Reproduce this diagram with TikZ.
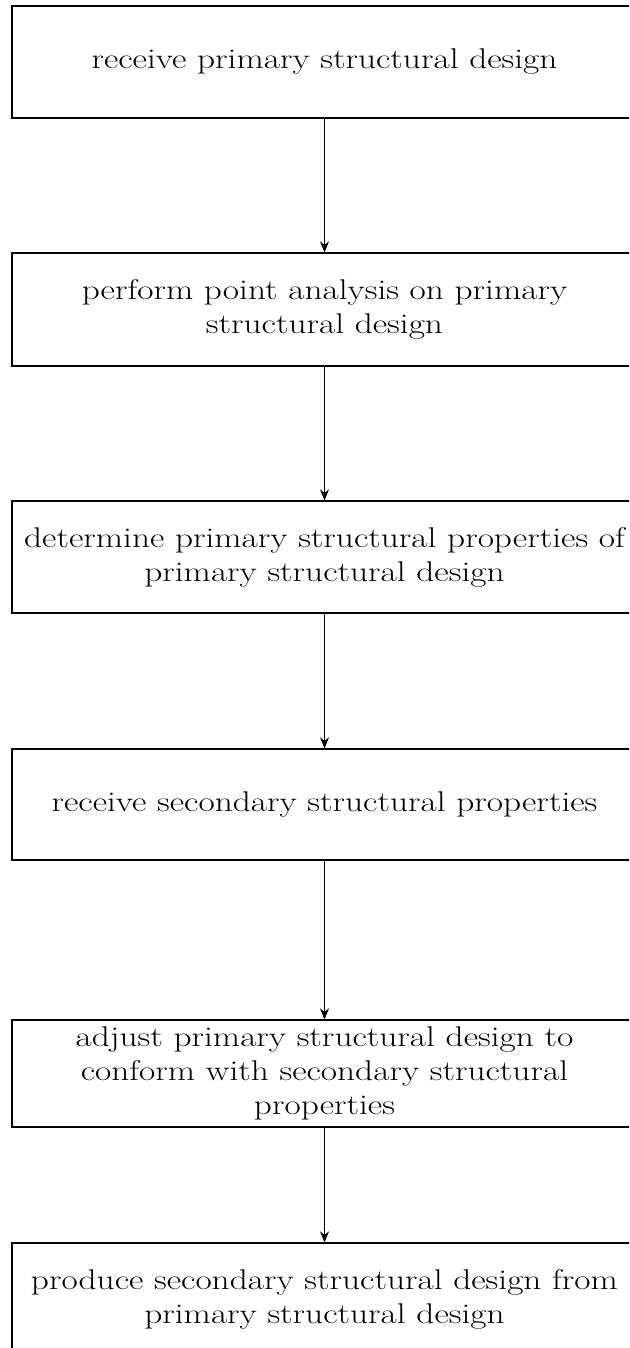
\documentclass[tikz,border=0pt]{standalone}
\usepackage{fontspec}
\setmainfont{Latin Modern Roman}[FakeStretch=1.24]
\usetikzlibrary{arrows.meta}
\begin{document}
\begin{tikzpicture}[x=1pt,y=-1pt,
  stepbox/.style={draw=black, line width=1.3pt, rectangle, minimum width=625pt, inner sep=0pt, align=center, font=\fontsize{28.5}{34}\selectfont},
  flow/.style={draw=black, line width=1.1pt, -{Stealth[length=11pt,width=9pt]}}]
\useasboundingbox (0,0) rectangle (629,1348);
\clip (0,0) rectangle (629,1348);
\node[stepbox, minimum height=112pt] (b1) at (324.5,62) {receive primary structural design};
\node[stepbox, minimum height=113pt] (b2) at (324.5,309.5) {perform point analysis on primary\\structural design};
\node[stepbox, minimum height=112pt] (b3) at (324.5,557) {determine primary structural properties of\\primary structural design};
\node[stepbox, minimum height=111pt] (b4) at (324.5,804.5) {receive secondary structural properties};
\node[stepbox, minimum height=107pt] (b5) at (324.5,1073.5) {adjust primary structural design to\\conform with secondary structural\\properties};
\node[stepbox, minimum height=112pt] (b6) at (324.5,1299) {produce secondary structural design from\\primary structural design};
\draw[flow] (b1) -- (b2);
\draw[flow] (b2) -- (b3);
\draw[flow] (b3) -- (b4);
\draw[flow] (b4) -- (b5);
\draw[flow] (b5) -- (b6);
\end{tikzpicture}
\end{document}
